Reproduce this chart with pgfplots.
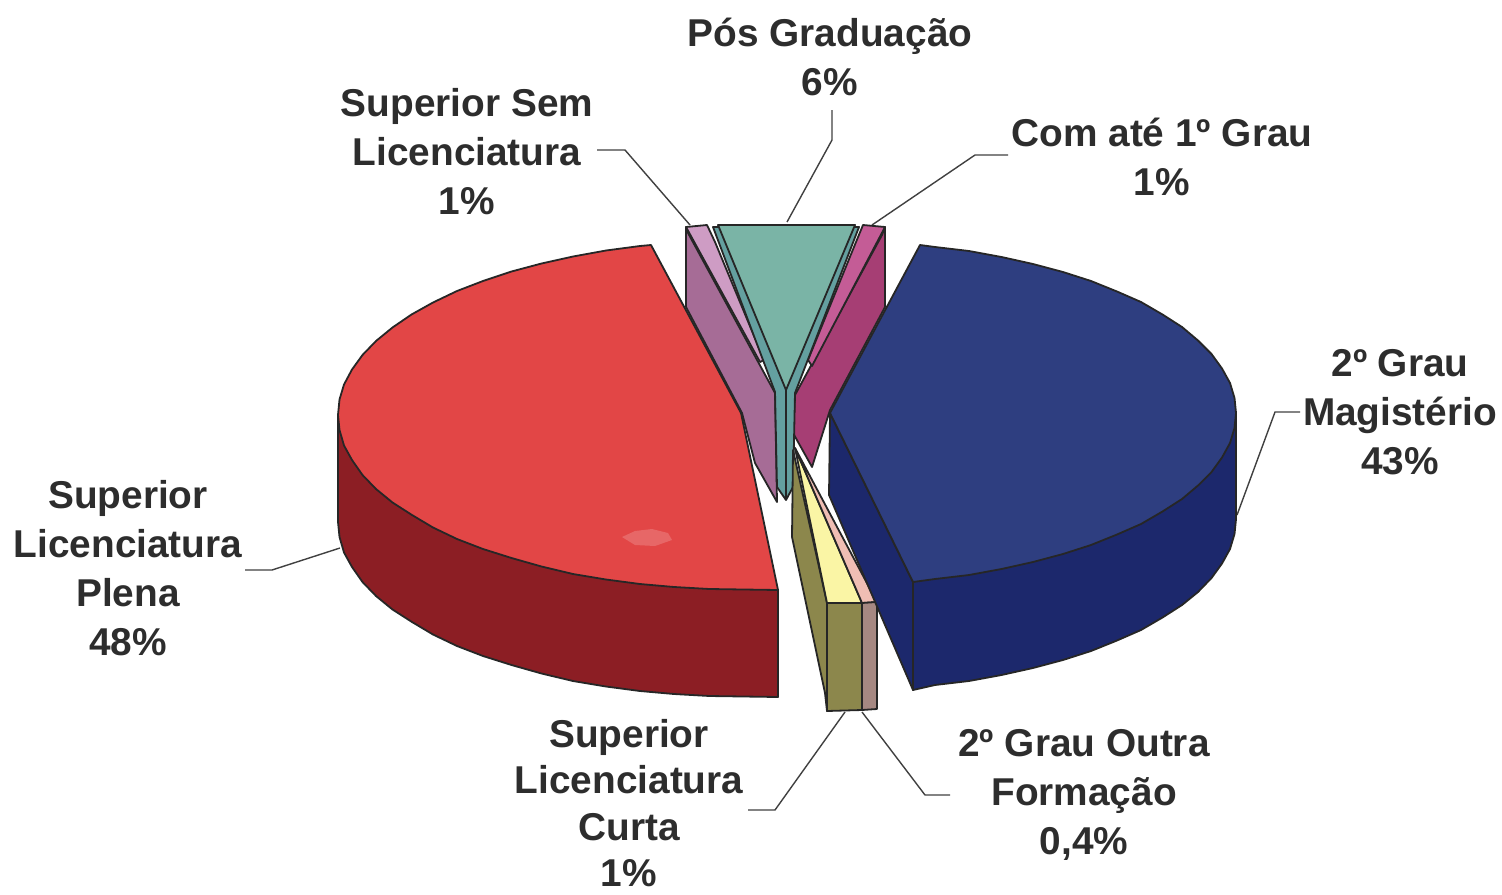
\documentclass[border=0pt]{standalone}
\usepackage{fontspec}
\setmainfont{Liberation Sans}
\usepackage{pgfplots}
\pgfplotsset{compat=1.18}
\definecolor{redtop}{RGB}{226,70,70}
\definecolor{redside}{RGB}{140,30,36}
\definecolor{bluetop}{RGB}{46,62,128}
\definecolor{blueside}{RGB}{28,40,108}
\definecolor{tealtop}{RGB}{122,180,166}
\definecolor{tealband}{RGB}{100,160,160}
\definecolor{purpside}{RGB}{166,108,150}
\definecolor{purptop}{RGB}{206,156,196}
\definecolor{magside}{RGB}{166,62,116}
\definecolor{magtop}{RGB}{196,92,150}
\definecolor{yellowtop}{RGB}{250,245,165}
\definecolor{pinktop}{RGB}{240,190,180}
\definecolor{oliveside}{RGB}{140,135,76}
\definecolor{mauveside}{RGB}{166,136,130}
\definecolor{txt}{RGB}{45,45,45}
\tikzset{lab/.style={align=center,text=txt,font=\fontsize{19.4}{24.5}\selectfont\bfseries},
  slice/.style={draw=black!85,line width=0.9pt,line join=round},
  leader/.style={black!75,line width=0.7pt}}
\begin{document}
\begin{tikzpicture}
\useasboundingbox (0,0) rectangle (751pt,447pt);
\begin{axis}[
    scale only axis,
    width=751pt,
    height=447pt,
    xmin=0, xmax=1502,
    ymin=0, ymax=894,
    y dir=reverse,
    hide axis,
    clip=false
]
% leader lines
\addplot[leader] coordinates {(597,150) (625,150) (690,225)};
\addplot[leader] coordinates {(832,110) (832,140) (787,222)};
\addplot[leader] coordinates {(1008,155) (975,155) (872,225)};
\addplot[leader] coordinates {(1300,412) (1275,412) (1237,515)};
\addplot[leader] coordinates {(245,570) (272,570) (340,548)};
\addplot[leader] coordinates {(748,810) (775,810) (845,712)};
\addplot[leader] coordinates {(950,795) (925,795) (862,712)};
% Superior Sem Licenciatura
\addplot[slice,fill=purpside] coordinates {(686,227) (686,307) (742,413) (755,463) (777,502) (775,393) (688,233)} -- cycle;
\addplot[slice,fill=purptop] coordinates {(686,227) (707,225) (715,242) (764,360) (760,362)} -- cycle;
% Com ate 1 Grau
\addplot[slice,fill=magside] coordinates {(885,227) (885,307) (830,410) (812,467) (793,433) (795,395) (882,235)} -- cycle;
\addplot[slice,fill=magtop] coordinates {(885,227) (863,225) (856,242) (808,360) (812,366)} -- cycle;
% Pos Graduacao
\addplot[slice,fill=tealband] coordinates {(713,227) (775,392) (777,487) (786,500) (793,487) (795,393) (859,227)} -- cycle;
\addplot[slice,fill=tealtop] coordinates {(718,225) (855,225) (786,390)} -- cycle;
\addplot[black!85,line width=0.6pt] coordinates {(786,390) (786,500)};
% Superior Licenciatura Curta and 2 Grau Outra Formacao
\addplot[slice,fill=oliveside] coordinates {(793,450) (792,537) (825,693) (827,711) (827,603)} -- cycle;
\addplot[slice,fill=yellowtop] coordinates {(795,448) (827,603) (862,603)} -- cycle;
\addplot[slice,fill=pinktop] coordinates {(795,448) (862,603) (877,602)} -- cycle;
\addplot[slice,fill=oliveside] coordinates {(827,603) (862,603) (862,710) (827,711)} -- cycle;
\addplot[slice,fill=mauveside] coordinates {(862,603) (877,602) (877,709) (862,710)} -- cycle;
% Superior Licenciatura Plena
\addplot[slice,fill=redside] coordinates {(338,415) (338,522) (339.5,537) (344,552.5) (352,567) (362.5,582) (376,596) (392.5,609.5) (412,622) (433,634.5) (457,646) (483,656) (511.5,665) (541.5,673.5) (573,681) (606,686.5) (640,691) (674,694) (709.5,696) (778,697) (778,590)} -- cycle;
\addplot[slice,fill=redtop] coordinates {(651,245) (640,246) (606,250.5) (573,256.5) (541.5,263.5) (511.5,271.5) (483,281) (457,291) (433,302.5) (411.5,314.5) (392.5,327.5) (376,341) (362.5,355) (352,369.5) (344,384.5) (339.5,399.5) (338,415) (339.5,430) (344,445.5) (352,460) (362.5,475) (376,489) (392.5,502.5) (412,515) (433,527.5) (457,539) (483,549) (511.5,558) (541.5,566.5) (573,574) (606,579.5) (640,584) (674,587) (709.5,589) (778,590) (741,413)} -- cycle;
\addplot[draw=none,fill=white,fill opacity=0.18] coordinates {(622,537) (635,531) (652,529) (668,533) (672,540) (655,546) (635,545)} -- cycle;
% 2 Grau Magisterio
\addplot[slice,fill=blueside] coordinates {(830,413) (829,495) (913,690) (913,582)} -- cycle;
\addplot[slice,fill=blueside] coordinates {(913,582) (913,690) (935,685) (969,681) (1001.5,675) (1033,668) (1063,660) (1091,651) (1117,640.5) (1141,630) (1162.5,617.5) (1182,605) (1198,592) (1211.5,578) (1222,563.5) (1230,549) (1234.5,534) (1236,519) (1236,413)} -- cycle;
\addplot[slice,fill=bluetop] coordinates {(920,245) (935,247) (969,251) (1001.5,257) (1033,264) (1063,272) (1091,281) (1117,291.5) (1141,302) (1162.5,314.5) (1182,327) (1198,340.5) (1211.5,354) (1222,368.5) (1230,383) (1234.5,398) (1236,413) (1234.5,428) (1230,443) (1222,457.5) (1211.5,472) (1198,485.5) (1182,499) (1162.5,511.5) (1141,524) (1117,534.5) (1091,545) (1063,554) (1033,562) (1001.5,569) (969,575) (935,579) (913,582) (830,413)} -- cycle;
% labels
\node[lab] at (axis cs:830,57) {Pós Graduação\\6\%};
\node[lab] at (axis cs:467,152) {Superior Sem\\Licenciatura\\1\%};
\node[lab] at (axis cs:1162,157) {Com até 1º Grau\\1\%};
\node[lab] at (axis cs:1400,412) {2º Grau\\Magistério\\43\%};
\node[lab] at (axis cs:128,568) {Superior\\Licenciatura\\Plena\\48\%};
\node[lab,font=\fontsize{19.4}{23.3}\selectfont\bfseries] at (axis cs:629,803) {Superior\\Licenciatura\\Curta\\1\%};
\node[lab] at (axis cs:1084,795) {2º Grau Outra\\Formação\\0,4\%};
\end{axis}
\end{tikzpicture}
\end{document}
